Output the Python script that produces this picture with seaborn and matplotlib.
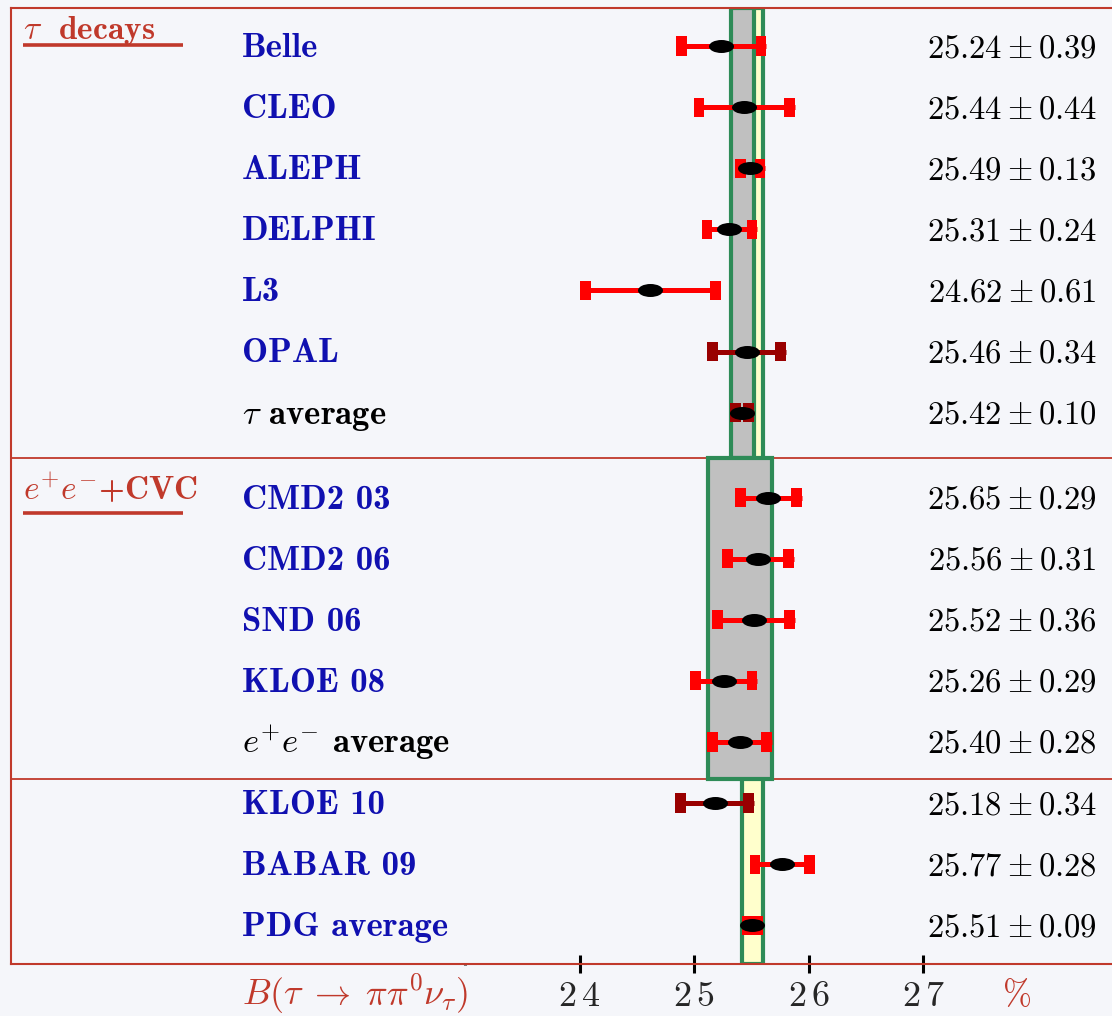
import matplotlib
matplotlib.use("Agg")
import matplotlib.pyplot as plt
import numpy as np
import pandas as pd
import seaborn as sns
from matplotlib.patches import Rectangle
from matplotlib.path import Path

# measurements of B(tau -> pi pi0 nu), in %
labels = [
    "Belle", "CLEO", "ALEPH", "DELPHI", "L3", "OPAL", r"$\tau$ average",
    "CMD2 03", "CMD2 06", "SND 06", "KLOE 08", r"$e^{+}e^{-}$ average",
    "KLOE 10", "BABAR 09", "PDG average",
]
values = [25.24, 25.44, 25.49, 25.31, 24.62, 25.46, 25.42,
          25.65, 25.56, 25.52, 25.26, 25.40,
          25.18, 25.77, 25.51]
errors = [0.39, 0.44, 0.13, 0.24, 0.61, 0.34, 0.10,
          0.29, 0.31, 0.36, 0.29, 0.28,
          0.34, 0.28, 0.09]
group = [0] * 7 + [1] * 5 + [2] * 3
tone = ["red", "red", "red", "red", "red", "dark", "dark",
        "red", "red", "red", "red", "red",
        "dark", "red", "red"]
label_kind = ["exp"] * 6 + ["avg"] + ["exp"] * 4 + ["avg"] + ["exp"] * 3

headers = [r"$\tau\ $ decays", r"$e^{+}e^{-}$+CVC"]
xticks = [24, 25, 26, 27]
xtick_labels = [r"$2\,4$", r"$2\,5$", r"$2\,6$", r"$2\,7$"]
xlabel = r"$B(\tau\;\rightarrow\;\pi\pi^0\nu_\tau)$"

TAU_AVG, EE_AVG, PDG_AVG = 6, 11, 14

FRAME = "#c0392b"
BLUE = "#1010b0"
GREEN = "#2e8b57"
BG = "#f5f6fa"
BOLD = ["cmb10", "DejaVu Serif"]

W, H = 1112, 1016
PX_X0, PX_PER_UNIT = 694.0, 114.5      # pixel of x=25, pixels per %
ROW0, ROW_PX = 46.0, 61.1              # first row centre, row pitch


def px2x(px):
    return 25 + (px - PX_X0) / PX_PER_UNIT


def px2row(py):
    return (py - ROW0) / ROW_PX


df = pd.DataFrame({"label": labels, "value": values, "err": errors,
                   "group": group, "tone": tone, "kind": label_kind})
df["row"] = np.arange(len(df)) + 0.39 * (df["group"] > 0)
df["lo"] = df["value"] - df["err"]
df["hi"] = df["value"] + df["err"]

sns.set_theme(style="white")
plt.rcParams["mathtext.fontset"] = "cm"
plt.rcParams["font.family"] = ["DejaVu Serif"]

fig = plt.figure(figsize=(W / 100, H / 100), dpi=100, facecolor=BG)
ax = fig.add_axes([11 / W, (H - 964) / H, (W - 11) / W, (964 - 8) / H])
ax.set_facecolor(BG)

y_top, y_bot = px2row(8), px2row(964)
sep1, sep2 = px2row(458), px2row(779)
ax.set_xlim(px2x(11), px2x(W))
ax.set_ylim(y_bot, y_top)

# separators
for s in (sep1, sep2):
    ax.axhline(s, color=FRAME, lw=1.3, zorder=0.5)


# average bands
def band(lo, hi, y0, y1, face, z):
    ax.add_patch(Rectangle((lo, y0), hi - lo, y1 - y0, facecolor=face,
                           edgecolor=GREEN, lw=3, zorder=z))


pdg = df.iloc[PDG_AVG]
band(pdg["lo"], pdg["hi"], y_top, y_bot, "#ffffcc", 1)
tau = df.iloc[TAU_AVG]
band(tau["lo"], tau["hi"], y_top, sep1, "#c0c0c0", 2)
ee = df.iloc[EE_AVG]
band(ee["lo"], ee["hi"], sep1, sep2, "#c0c0c0", 2)

palette = {"red": "#ff0000", "dark": "#990000"}

# error bar lines
for t, sub in df.groupby("tone"):
    ax.hlines(sub["row"], sub["lo"], sub["hi"], colors=palette[t], lw=3.6, zorder=3)

# caps drawn as rectangles just inside each end
cap_half = 5 / PX_PER_UNIT
caps = pd.concat([
    df.assign(cx=df["lo"] + cap_half),
    df.assign(cx=df["hi"] - cap_half),
])
cap_marker = Path([(-0.28, -0.5), (0.28, -0.5), (0.28, 0.5), (-0.28, 0.5), (-0.28, -0.5)],
                  [Path.MOVETO, Path.LINETO, Path.LINETO, Path.LINETO, Path.CLOSEPOLY])
sns.scatterplot(data=caps, x="cx", y="row", hue="tone", palette=palette,
                marker=cap_marker, s=190, linewidth=0, legend=False, zorder=4, ax=ax)

# central values
circ = Path.unit_circle()
ellipse = Path(circ.vertices * np.array([1.0, 0.52]), circ.codes)
sns.scatterplot(data=df, x="value", y="row", color="black", marker=ellipse,
                s=324, linewidth=0, legend=False, zorder=5, ax=ax)

# text columns
label_x = px2x(242)
value_x = px2x(1097)
base_off = 11 / ROW_PX
for _, r in df.iterrows():
    col = "black" if r["kind"] == "avg" and r["group"] < 2 else BLUE
    ax.text(label_x, r["row"] + base_off, r["label"], color=col, fontsize=25,
            family=BOLD, ha="left", va="baseline")
    ax.text(value_x, r["row"] + base_off, rf"${r['value']:.2f} \pm {r['err']:.2f}$",
            color="black", fontsize=23.5, ha="right", va="baseline")

# group headers with underline
for text, base_px, line_px in zip(headers, (39, 500), (45, 513)):
    ax.text(px2x(23), px2row(base_px), text, color=FRAME, fontsize=24,
            family=BOLD, ha="left", va="baseline")
    ax.plot([px2x(23), px2x(183)], [px2row(line_px)] * 2, color=FRAME, lw=2.6,
            solid_capstyle="butt", zorder=3)

# axis
for side in ("left", "top", "bottom"):
    ax.spines[side].set_color(FRAME)
    ax.spines[side].set_linewidth(1.5)
ax.spines["right"].set_visible(False)
ax.set_yticks([])
ax.set_xticks(xticks)
ax.set_xticklabels(xtick_labels)
ax.set_xticks([23], minor=True)
ax.tick_params(axis="x", which="major", direction="inout", length=13, width=2.2,
               color="black", pad=4, labelsize=26, bottom=True)
ax.tick_params(axis="x", which="minor", direction="inout", length=2, width=2.2,
               color="black", bottom=True)
ax.set_xlabel("")
ax.set_ylabel("")

ax.text(px2x(355), px2row(1005), xlabel, color=FRAME, fontsize=26,
        ha="center", va="baseline", clip_on=False)
ax.text(px2x(1016), px2row(1005), r"$\%$", color=FRAME, fontsize=25,
        ha="center", va="baseline", clip_on=False)

fig.savefig("out.png", dpi=100, facecolor=BG)
